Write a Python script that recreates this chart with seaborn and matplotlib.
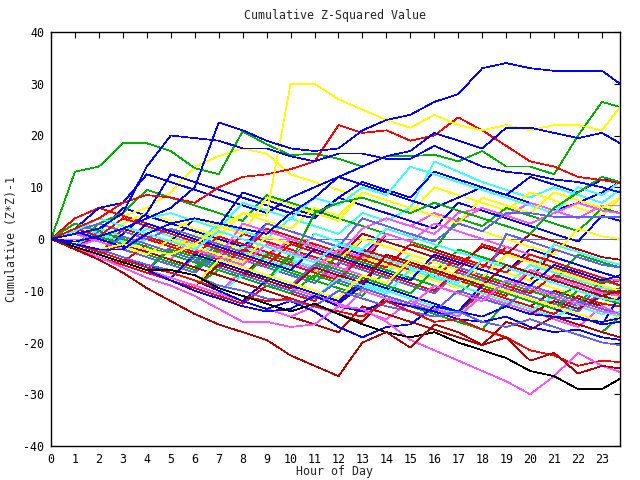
import numpy as np
import pandas as pd
import matplotlib
matplotlib.use("Agg")
import matplotlib.pyplot as plt
import seaborn as sns

nan = np.nan
hours = [0, 1, 2, 3, 4, 5, 6, 7, 8, 9, 10, 11, 12, 13, 14, 15, 16, 17, 18, 19, 20, 21, 22, 23, 23.75]
tick_hours = list(range(24))
y_ticks = [-40, -30, -20, -10, 0, 10, 20, 30, 40]

# --- prominent traced series ---
blue_a = [0, -0.5, 0.5, 2, 4, 6, 10, 22.5, 21, 19, 17.5, 17, 17.5, 21, 23, 24, 26.5, 28, 33, 34, 33, 32.5, 32.5, 32.5, 30]
blue_b = [0, 1, 2, 5, 14, 20, 19.5, 19, 17.5, 17.5, 16, 15, 16.5, 16.5, 15.5, 15.5, 18, 16, 14, 13, 12.5, 11.5, 11, 10, 9]
blue_c = [0, -1, -2, -2, 1, 3, 4, 3, 2, 1, 5, 8, 12, 14, 16, 17, 20.5, 19, 17.5, 21.5, 21.5, 20.5, 19.5, 20.5, 18.5]
yellow_a = [0, -1, -2, -1, -2, -3, -1, 2, 5, 4.5, 30, 30, 27, 25, 23, 21.5, 24, 22, 21, 22, 21, 22, 22, 21, 25.5]
red_a = [0, 2, 4, 7, 8.5, 8, 7, 10, 12, 12.5, 13.5, 15, 22, 20.5, 21, 19, 20, 23.5, 21, 18, 15, 14, 12, 11.4, 10.8]
green_a = [0, 13, 14, 18.5, 18.5, 17, 13.7, 12.5, 20.8, 18.3, 16.2, 16.5, 15.5, 14, 16, 16, 16.3, 15, 17, 14, 14, 12.5, 20, 26.5, 25.5]
darkred_a = [0, -2, -4, -6.5, -9.5, -12, -14.5, -16.5, -18, -19.5, -22.5, -24.5, -26.5, -20, -18, -21, -16.5, -18, -20.5, -19, -23.5, -22, -26, -24.5, -25]
black_a = [0, -1.5, -3, -4.5, -6, -6, -7, -9.5, -11, -12.5, -14, -12.5, -14.5, -16.5, -18, -19, -18, -20, -21.5, -23, -25.5, -26.5, -29, -29, -27]
magenta_a = [0, -1.5, -3.5, -5.5, -7.5, -9, -11, -13.5, -16, -16, -17, -16.5, -13, -13.5, -16, -19.5, -21.5, -23.5, -25.5, -27.5, -30, -26.5, -22, -24.5, -25.7]
red_b = [0, -1, -2.5, -4, -5.5, -6.5, -8, -9.5, -11, -12, -11.5, -13, -14, -15, -12, -14, -16, -15.5, -17.5, -19, -21.5, -22.5, -24.5, -23.5, -23.8]
blue_d = [0, -1.5, -3, -4.5, -6, -8, -10, -11.5, -13, -14, -13.5, -11, -13, -14, -12, -13, -14, -15.5, -16, -15, -17, -18, -17.5, -19, -19.5]
blue_e = [0, -1, -2.5, -4, -5, -6.5, -8, -10, -12, -13.5, -12, -14, -17, -19, -17, -16.5, -13, -14, -15, -13, -14.5, -15, -15.5, -16, -15.3]
lblue_a = [0, -1, -2, -3.5, -5, -6, -7, -9, -10, -11.5, -12, -13, -10, -11.5, -13, -14, -15, -14, -16, -17, -15.5, -17, -18.5, -20, -20.5]

# --- the dense band ---
r1 = [0, -1.5, -3, 2, 0.5, -1, -2.5, -4, 1, -0.5, -2, -3.5, -5, 0, -1.5, -3, -4.5, -6, -1, -2.5, -4, -5.5, -7, -8.5, -8]
g1 = [0, -2, 2, 0.5, -1, -2.5, -4, -5.5, -1, -2.5, -4, 1, -0.5, -2, -3.5, -5, -6.5, -2, -3.5, -5, -6.5, -8, -3, -4.5, -5.5]
b1 = [0, 3, 1.5, 6, 4.5, 3, 1.5, 0, -1.5, 3, 1.5, 0, -1.5, -3, 1, -0.5, -2, -3.5, -5, -6.5, -2, -3.5, -5, -6.5, -7.5]
m1 = [0, -1.5, -3, -4.5, -1, -2.5, -4, -5.5, -7, -3, -4.5, -6, -7.5, -2, -3.5, -5, -6.5, -8, -4, -5.5, -7, -8.5, -10, -11.5, -12]
c1 = [0, -1.5, 1, -0.5, 2, 0.5, -1, 3, 1.5, 0, 4, 2.5, 1, 5, 3.5, 6, 15, 13, 11, 9.5, 8, 10, 8.5, 7, 9.5]
d1 = [0, -1.5, -3, -4.5, -1, -2.5, -4, -5.5, -7, -3, -0.5, -2, -3.5, -5, 1, -0.5, -2, -3.5, -5, -6.5, -8, -2, -3.5, -5, -5.5]
y1 = [0, 1.5, 3, 4.5, 6, 9, 14, 16, 17.5, 16.5, 12.5, 11, 9.5, 8, 6.5, 5, 10, 8.5, 7, 5.5, 9, 7.5, 6, 4.5, 8]
l1 = [0, -1.5, 1.5, 0, -1.5, -3, -4.5, -1, -2.5, -4, -5.5, -2, -3.5, -5, -6.5, -8, -4, -5.5, -7, -8.5, -10, -11.5, -13, -9, -10]
r2 = [0, 4, 6, 4.5, 3, 1.5, 0, -1.5, -3, 2, 0.5, -1, -2.5, -4, -5.5, -1, -2.5, -4, -5.5, -1.5, -3, -4.5, -6, -7.5, -8]
g2 = [0, -1.5, 3, 5, 9.5, 8, 6.5, 5, 3.5, 8.5, 7, 5.5, 4, 2.5, 1, -0.5, -2, 4, 2.5, 6, 4.5, 3, 1.5, 6, 5]
b2 = [0, 2, 6, 7, 12.5, 11, 9.5, 8, 6.5, 5, 8, 10, 12, 10.5, 9, 7.5, 6, 8, 10, 8.5, 7, 5.5, 7, 9, 11]
m2 = [0, -1.5, -3, -1, -2.5, -4, 1, -0.5, -2, -3.5, 0, -1.5, -3, 2, 4, 2.5, 5, 3.5, 6, 4.5, 7, 5.5, 4, 6.5, 6.5]
c2 = [0, 1, -0.5, -2, 0, -1.5, -3, -1, -2.5, -4, -5.5, -2, -3.5, -5, -6.5, -3, -4.5, -6, -7.5, -9, -5, -6.5, -8, -9.5, -10]
d2 = [0, -1.5, -3, -4.5, -6, -7.5, -9, -5, -6.5, -8, -9.5, -11, -12.5, -8, -9.5, -11, -12.5, -14, -10, -11.5, -13, -10, -11.5, -13, -14.5]
y2 = [0, -1.5, -3, -4.5, -1, -2.5, 1, -0.5, -2, -3.5, -5, -6.5, -2, -3.5, -5, -6.5, -8, -9.5, -5, -6.5, -8, -9.5, -11, -12.5, -11]
l2 = [0, 1.5, -0.5, -2, -3.5, -5, -6.5, -2.5, -4, -5.5, -7, -8.5, -4.5, -6, -7.5, -9, -10.5, -6.5, -8, -9.5, -11, -12.5, -14, -10, -11]
r3 = [0, -2, -3.5, -5, -6.5, -8, -9.5, -11, -12.5, -9, -10.5, -12, -7, -8.5, -10, -11.5, -13, -14.5, -10, -11.5, -13, -14.5, -11, -12.5, -13]
g3 = [0, 1.5, 0, -1.5, -3, -4.5, -6, -2, -3.5, -5, -6.5, -8, -9.5, -11, -6, -7.5, -9, -10.5, -12, -8, -9.5, -11, -12.5, -8, -9]
b3 = [0, 1.5, 4, 2.5, 1, -0.5, 4, 2.5, 9, 7.5, 6, 4.5, 8, 6.5, 5, 3.5, 2, 7, 5.5, 4, 2.5, 1, -0.5, 4.5, 3.5]
m3 = [0, -1.5, -3, -4.5, -6, -7.5, -9, -10.5, -6, -7.5, -4, -5.5, -2, -3.5, 1, -0.5, 3, 1.5, 0, -1.5, -3, -4.5, -6, -7.5, -8]
c3 = [0, -1.5, -3, -4.5, -6, -2, -3.5, -5, -6.5, -8, -4, -5.5, -7, -8.5, -10, -11.5, -13, -14.5, -11, -12.5, -14, -11, -12.5, -14, -15]
d3 = [0, -1.5, 0.5, -1, -2.5, -4, -5.5, -1.5, -3, -4.5, -6, -2, -3.5, 1, -0.5, -2, -3.5, -5, -1.5, -3, 1, -0.5, -2, -3.5, -4]
y3 = [0, 1.5, 0, 3, 5, 3.5, 2, 0.5, 5, 3.5, 2, 6, 4.5, 9, 7.5, 6, 4.5, 3, 1.5, 0, -1.5, -3, 2, 0.5, 0]
l3 = [0, -1.5, -3, -4.5, -6, -1.5, -3, -4.5, -6, -7.5, -9, -5, -6.5, -8, -9.5, -4, -5.5, -7, -8.5, 1, -0.5, -2, -3.5, -5, -5.5]
r4 = [0, 1.5, 3, 1.5, 0, -1.5, -3, 0.5, -1, -2.5, -4, 1, -0.5, -2, -3.5, -5, -6.5, -8, -9.5, -11, -6, -7.5, -9, -10.5, -11]
g4 = [0, -1.5, -3, -4.5, -6, -7.5, -9, -6, -7.5, -9, -10.5, -7, -8.5, -10, -11.5, -13, -14.5, -16, -17.5, -12, -13.5, -15, -16.5, -18, -15]
b4 = [0, -1.5, -3, -4.5, -6, -7.5, -9, -10.5, -12, -8, -9.5, -11, -12.5, -9, -3, -4.5, -6, -7.5, -9, -10.5, -12, -13.5, -15, -16.5, -11]
m4 = [0, -1.5, -3, -4.5, -6, -7.5, -3.5, -5, -6.5, -8, -9.5, -11, -12.5, -14, -15.5, -12, -13.5, -15, -11, -12.5, -14, -15.5, -17, -13, -14.5]
c4 = [0, -1.5, 2, 0.5, -1, -2.5, -4, -5.5, -1.5, -3, -4.5, 1, -0.5, -2, 2, 0.5, -1, -2.5, -4, -5.5, -7, -1, -2.5, -4, -5]
d4 = [0, -1.5, -3, -4.5, -6, -7.5, -9, -10.5, -12, -13.5, -15, -16.5, -18, -13, -14.5, -16, -17.5, -19, -20.5, -16, -17.5, -15, -16.5, -18, -19]
b5 = [0, -1.5, -3, 1, 5, 12.5, 11, 9.5, 8, 6.5, 5, 4, 8, 11, 9.5, 8, 13, 11.5, 10, 8.5, 12, 10.5, 9, 11.5, 11]
c5 = [0, 1.5, 0, 2, 4, 5, 3.5, 2, 7, 5.5, 4, 8, 6.5, 10, 8.5, 14, 12.5, 11, 9.5, 8, 6.5, 5, 10, 8.5, 11]
y4 = [0, 2, 0.5, -1, 3, 1.5, 4, 2.5, 1, 8, 6.5, 5, 3.5, 9, 7.5, 6, 4.5, 3, 8, 6.5, 5, 9, 7.5, 6, 8]
m5 = [0, -1.5, 0, -1.5, 1, -0.5, -2, -3.5, 3, 1.5, 0, -1.5, -3, 2, 4, 2.5, 1, 5, 6, 4.5, 3, 5, 7, 5.5, 5]
g5 = [0, 3, 1.5, 0, -1.5, -3, -4.5, -6, -7.5, -3, -4.5, 5, 7, 8, 6.5, 5, 7, 5.5, 4, 2.5, 1, 6, 9, 12, 11]
l4 = [0, 1.5, 3, 1.5, 0, 2, 0.5, -1, -2.5, 3, 1.5, 0, -1.5, 4, 2.5, 1, -0.5, 3, 1.5, 5, 5, 4.3, 4.3, 4.3, 4.3]
r5 = [0, -1.5, -3, -4.5, -1, -2.5, -4, -5.5, -2, -3.5, -5, -6.5, -8, -3, -4.5, -6, -7.5, -3.5, -5, -6.5, -3, -4.5, -6, -7.5, -9]
g6 = [0, 2, 0.5, -1, -2.5, -4, -5.5, -1.5, -3, -4.5, -6, -7.5, -3, -4.5, -6, -7.5, -9, -10.5, -7, -8.5, -10, -11.5, -9, -10.5, -9.5]
b6 = [0, -1.5, -3, -4.5, -6, -7.5, -3, -4.5, -6, -7.5, -9, -10.5, -12, -8, -9.5, -11, -12.5, -14, -9, -10.5, -12, -13.5, -15, -16.5, -16]
m6 = [0, 1, -0.5, -2, 1, -0.5, -2, -3.5, -5, -1, -2.5, -4, -5.5, -7, -8.5, -4, -5.5, -7, -8.5, -10, -6, -7.5, -9, -10.5, -11]
c6 = [0, -1.5, -3, -4.5, -6, -7.5, -9, -10.5, -7, -8.5, -10, -11.5, -7.5, -9, -10.5, -6, -7.5, -9, -10.5, -12, -13.5, -15, -13, -14.5, -14]
d5 = [0, -1.5, -3, -1, -2.5, -4, -5.5, -7, -8.5, -10, -11.5, -13, -14.5, -16, -11, -12.5, -14, -10, -11.5, -13, -14.5, -12, -13.5, -11, -12]
y5 = [0, 1.5, 0, -1.5, -3, 0, -1.5, -3, -4.5, 0.5, -1, -2.5, -4, 0, -1.5, -3, -4.5, -6, -7.5, -3, -4.5, -6, -7.5, -9, -10]
l5 = [0, -1.5, -3, 0.5, -1, -2.5, -4, -5.5, -7, -8.5, -10, -11.5, -8, -9.5, -11, -12.5, -14, -10, -11.5, -13, -9, -10.5, -12, -13.5, -14.5]
r6 = [0, 2, 0.5, 4, 2.5, 1, -0.5, -2, -3.5, -5, -1, -2.5, -4, -5.5, -7, -8.5, -10, -6, -7.5, -9, -10.5, -7, -8.5, -10, -10.5]
g7 = [0, -1.5, -3, -4.5, -6, -2, -3.5, -5, -6.5, -8, -3, -4.5, -6, -7.5, -9, -10.5, -6, -7.5, -9, -10.5, -12, -13.5, -10, -11.5, -12.5]
b7 = [0, 1.5, 0, -1.5, 3, 1.5, 0, -1.5, -3, -4.5, -6, -2, -3.5, -5, -6.5, -8, -3, -4.5, -6, -7.5, -9, -5, -6.5, -8, -7]
c7 = [0, 1.5, 4, 2.5, 1, -0.5, -2, 1.5, 0, -1.5, -3, -4.5, -1, -2.5, -4, -5.5, -7, -8.5, -4, -5.5, -7, -8.5, -10, -11.5, -12]
d6 = [0, -1.5, -3, -4.5, -6, -7.5, -9, -5, -6.5, -8, -9.5, -5.5, -7, -8.5, -3, -4.5, -6, -7.5, -9, -5, -6.5, -8, -9.5, -11, -10]
y6 = [0, -1.5, -3, -4.5, -6, -7.5, -9, -4, -5.5, -7, -8.5, -10, -11.5, -7, -8.5, -4, -5.5, -7, -8.5, -10, -11.5, -13, -14.5, -16, -15]
m7 = [0, -1.5, -3, -4.5, -6, -7.5, -9, -10.5, -12, -13.5, -15, -13, -14.5, -10, -11.5, -13, -9, -10.5, -12, -8, -9.5, -11, -12.5, -14, -14.5]
flat_m = [0, 0, 0, 0, 0, 0, 0, 0, 0, 0, 0, 0, 0, nan, nan, nan, nan, nan, nan, nan, nan, nan, nan, nan, nan]
flat_l = [nan, nan, nan, nan, nan, nan, nan, nan, nan, nan, nan, 0, 0, 0, 0, 0, 0, 0, 0, 0, 0, 0, 0, 0, 0]

RED, GRN, BLU, MAG, CYN, DRD, YEL, LBL, BLK = ("#ff0000", "#00b000", "#0000ff", "#ff55ff",
                                               "#40ffff", "#b00000", "#ffff00", "#6060ff", "#000000")

series = [
    ("flat_m", flat_m, MAG), ("flat_l", flat_l, LBL),
    ("r1", r1, RED), ("g1", g1, GRN), ("b1", b1, BLU), ("m1", m1, MAG), ("c1", c1, CYN),
    ("d1", d1, DRD), ("y1", y1, YEL), ("l1", l1, LBL),
    ("r2", r2, RED), ("g2", g2, GRN), ("b2", b2, BLU), ("m2", m2, MAG), ("c2", c2, CYN),
    ("d2", d2, DRD), ("y2", y2, YEL), ("l2", l2, LBL),
    ("r3", r3, RED), ("g3", g3, GRN), ("b3", b3, BLU), ("m3", m3, MAG), ("c3", c3, CYN),
    ("d3", d3, DRD), ("y3", y3, YEL), ("l3", l3, LBL),
    ("r4", r4, RED), ("g4", g4, GRN), ("b4", b4, BLU), ("m4", m4, MAG), ("c4", c4, CYN),
    ("d4", d4, DRD), ("b5", b5, BLU), ("c5", c5, CYN), ("y4", y4, YEL), ("m5", m5, MAG),
    ("g5", g5, GRN), ("l4", l4, LBL),
    ("r5", r5, RED), ("g6", g6, GRN), ("b6", b6, BLU), ("m6", m6, MAG), ("c6", c6, CYN),
    ("d5", d5, DRD), ("y5", y5, YEL), ("l5", l5, LBL), ("r6", r6, RED), ("g7", g7, GRN),
    ("b7", b7, BLU), ("c7", c7, CYN), ("d6", d6, DRD), ("y6", y6, YEL), ("m7", m7, MAG),
    ("blue_d", blue_d, BLU), ("blue_e", blue_e, BLU), ("lblue_a", lblue_a, LBL), ("red_b", red_b, RED),
    ("magenta_a", magenta_a, MAG), ("black_a", black_a, BLK), ("darkred_a", darkred_a, DRD),
    ("green_a", green_a, GRN), ("red_a", red_a, RED), ("yellow_a", yellow_a, YEL),
    ("blue_c", blue_c, BLU), ("blue_b", blue_b, BLU), ("blue_a", blue_a, BLU),
]

rows = []
for name, vals, _ in series:
    for h, v in zip(hours, vals):
        rows.append({"hour": h, "value": v, "series": name})
df = pd.DataFrame(rows)
palette = {name: col for name, _, col in series}

sns.set_style("white")
plt.rcParams["font.family"] = ["DejaVu Sans Mono"]

fig = plt.figure(figsize=(6.4, 4.8), dpi=100)
ax = fig.add_axes([51 / 640, 1 - 446 / 480, (620 - 51) / 640, (446 - 32) / 480])

sns.lineplot(data=df, x="hour", y="value", hue="series", palette=palette,
             hue_order=[s[0] for s in series], estimator=None, sort=False,
             legend=False, linewidth=0.5, ax=ax)
for ln in ax.get_lines():
    ln.set_antialiased(False)

ax.set_xlim(0, 23.75)
ax.set_ylim(-40, 40)
ax.set_xticks(tick_hours)
ax.set_xticklabels([str(h) for h in tick_hours])
ax.set_yticks(y_ticks)
ax.set_yticklabels([str(v) for v in y_ticks])
ax.tick_params(direction="in", length=4, width=0.8, top=True, right=True,
               labelsize=8.4, pad=5, colors="black")
for sp in ax.spines.values():
    sp.set_visible(True)
    sp.set_color("black")
    sp.set_linewidth(1.0)
ax.set_xlabel("")
ax.set_ylabel("")
ax.grid(False)

fig.text(335 / 640, 1 - 15 / 480, "Cumulative Z-Squared Value", ha="center", va="center", fontsize=8.4)
fig.text(335 / 640, 1 - 472 / 480, "Hour of Day", ha="center", va="center", fontsize=8.4)
fig.text(12 / 640, 1 - 239 / 480, "Cumulative (Z*Z)-1", ha="center", va="center",
         rotation=90, fontsize=8.4)

fig.savefig("out.png", dpi=100, facecolor="white")
